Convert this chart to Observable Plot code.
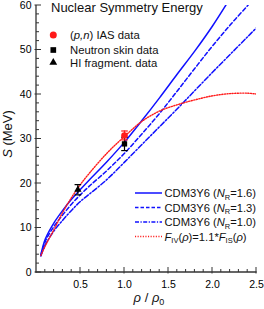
<!DOCTYPE html>
<html><head><meta charset="utf-8">
<script src="https://cdn.jsdelivr.net/npm/d3@7"></script>
<script src="https://cdn.jsdelivr.net/npm/@observablehq/plot@0.6"></script>
<style>body{margin:0;background:#fff}svg{display:block}</style>
</head><body><div id="chart"></div>
<script>
// density grid rho/rho0
const rho = [0.05,0.1,0.2,0.3,0.4,0.5,0.6,0.8,1.0,1.2,1.4,1.6,1.8,2.0,2.2,2.4,2.5];
// CDM3Y6 symmetry energy curves S (MeV)
const sNR16 = [4.0,7.5,11.2,14.0,16.5,18.7,20.8,24.9,29.3,34.2,39.3,44.6,49.8,55.4,61.6,68.0,71.2];
const sNR13 = [3.9,7.0,10.4,13.0,15.4,17.5,19.4,22.9,26.8,31.2,35.8,40.8,45.9,50.9,55.6,60.0,62.2];
const sNR10 = [3.7,6.2,9.4,11.8,14.0,16.0,17.6,20.9,24.8,28.8,32.8,36.8,40.9,45.0,49.0,53.0,55.0];
const sFIV  = [3.8,6.0,9.7,13.6,16.9,19.8,22.3,26.8,30.6,34.0,36.3,37.7,38.8,39.7,40.2,40.3,40.1];
// experimental points
const expNames = ["IAS","skin","HI"];
const expRho = [1.0, 1.0, 0.47];
const expS   = [30.8, 28.9, 18.6];
const expErr = [1.0, 1.5, 1.15];
// ticks
const xTickLabels = [0.5,1.0,1.5,2.0,2.5];
const yTickLabels = [0,10,20,30,40,50,60];

const curveSeries = ["NR16","NR13","NR10","FIV"];
const curveVals = [sNR16, sNR13, sNR10, sFIV];
const curves = curveSeries.flatMap((s, i) => rho.map((r, j) => ({series: s, rho: r, S: curveVals[i][j]})));
const pts = expNames.map((n, i) => ({name: n, rho: expRho[i], S: expS[i], lo: expS[i]-expErr[i], hi: expS[i]+expErr[i]}));

const blue = "#1010ff", red = "#ff1a1a", axisColor = "#333";
const styleOf = {
  NR16: {stroke: blue, dash: null, w: 1.5},
  NR13: {stroke: blue, dash: "4,2.5", w: 1.5},
  NR10: {stroke: blue, dash: "5,2,1.5,2", w: 1.5},
  FIV:  {stroke: red, dash: "1.1,1.5", w: 1.4}
};
const capSymbol = {draw(ctx, size) { const r = Math.sqrt(size / Math.PI); ctx.moveTo(-r, 0); ctx.lineTo(r, 0); }};

const lineMarks = curveSeries.map(s => Plot.line(curves.filter(d => d.series === s), {
  x: "rho", y: "S", stroke: styleOf[s].stroke, strokeWidth: styleOf[s].w,
  strokeDasharray: styleOf[s].dash, curve: "catmull-rom", clip: true
}));

const colorOf = {IAS: red, skin: "black", HI: "black"};
const symOf = {IAS: "circle", skin: "square", HI: "triangle"};
const rOf = {IAS: 3.3, skin: 3.0, HI: 2.7};

const chart = Plot.plot({
  width: 264, height: 309,
  marginLeft: 36, marginRight: 8, marginTop: 5, marginBottom: 37,
  x: {domain: [0, 2.5]},
  y: {domain: [0, 60]},
  style: {fontFamily: "'Liberation Sans', Arial, sans-serif", background: "white", color: "black"},
  marks: [
    Plot.axisX({ticks: xTickLabels, tickSize: 0, tickPadding: 8, tickFormat: d => d.toFixed(1), fontSize: 10.5, label: null}),
    Plot.axisY({ticks: yTickLabels, tickSize: 0, tickPadding: 5, fontSize: 10.5, label: null}),
    ...lineMarks,
    Plot.ruleX(pts, {x: "rho", y1: "lo", y2: "hi", stroke: d => colorOf[d.name], strokeWidth: 1.2}),
    Plot.dot(pts, {x: "rho", y: "lo", symbol: capSymbol, r: 3.3, stroke: d => colorOf[d.name], strokeWidth: 1.2}),
    Plot.dot(pts, {x: "rho", y: "hi", symbol: capSymbol, r: 3.3, stroke: d => colorOf[d.name], strokeWidth: 1.2}),
    ...expNames.map(n => Plot.dot(pts.filter(d => d.name === n), {x: "rho", y: "S", symbol: symOf[n], r: rOf[n], fill: colorOf[n], stroke: "none"}))
  ]
});

const svg = d3.select(chart);
const xs = chart.scale("x"), ys = chart.scale("y");
const X = v => xs.apply(v), Y = v => ys.apply(v);

// axis lines and inward ticks
const ax = svg.append("g").attr("stroke", axisColor).attr("fill", "none");
ax.append("line").attr("x1", X(0)).attr("x2", X(0)).attr("y1", Y(0) + 0.6).attr("y2", Y(60)).attr("stroke-width", 1.3);
ax.append("line").attr("x1", X(0) - 0.6).attr("x2", X(2.5) + 0.6).attr("y1", Y(0)).attr("y2", Y(0)).attr("stroke-width", 1.3);
d3.range(0, 61, 2).forEach(v => {
  const major = v % 10 === 0;
  ax.append("line").attr("x1", X(0) - (major ? 1.5 : 0)).attr("x2", X(0) + (major ? 5 : 3))
    .attr("y1", Y(v)).attr("y2", Y(v)).attr("stroke-width", 1);
});
d3.range(1, 26).forEach(k => {
  const v = k / 10, major = k % 5 === 0;
  ax.append("line").attr("x1", X(v)).attr("x2", X(v))
    .attr("y1", Y(0) + (major ? 1.5 : 0)).attr("y2", Y(0) - (major ? 5 : 3)).attr("stroke-width", 1);
});

const font = "'Liberation Sans', Arial, sans-serif";
const txt = (x, y, size) => svg.append("text").attr("x", x).attr("y", y).attr("text-anchor", "start")
  .attr("font-size", size).attr("font-family", font).attr("fill", "#111");
// title
txt(51, 11.5, 13).text("Nuclear Symmetry Energy");

// y label
const yl = svg.append("text").attr("transform", "translate(11.5,134) rotate(-90)").attr("text-anchor", "middle")
  .attr("font-size", 13).attr("font-family", font).attr("fill", "#111");
yl.append("tspan").attr("font-style", "italic").text("S");
yl.append("tspan").text(" (MeV)");

// x label
const xl = svg.append("text").attr("x", 149).attr("y", 302).attr("text-anchor", "middle")
  .attr("font-size", 13).attr("font-family", font).attr("fill", "#111");
xl.append("tspan").attr("font-style", "italic").text("ρ");
xl.append("tspan").text(" / ");
xl.append("tspan").attr("font-style", "italic").text("ρ");
xl.append("tspan").attr("font-size", 9).attr("dy", 3).text("0");

// symbol legend
const symLegend = [
  {name: "IAS", y: 35, tb: 39},
  {name: "skin", y: 50, tb: 54},
  {name: "HI", y: 62.5, tb: 66.5}
];
const d3sym = {circle: d3.symbolCircle, square: d3.symbolSquare, triangle: d3.symbolTriangle};
symLegend.forEach(e => {
  const r = rOf[e.name] + 0.2;
  svg.append("path").attr("transform", `translate(53.3,${e.y})`)
    .attr("d", d3.symbol(d3sym[symOf[e.name]], Math.PI * r * r)()).attr("fill", colorOf[e.name]);
  const t = txt(70, e.tb, 11.3);
  if (e.name === "IAS") {
    t.append("tspan").text("(");
    t.append("tspan").attr("font-style", "italic").text("p,n");
    t.append("tspan").text(") IAS data");
  } else if (e.name === "skin") t.text("Neutron skin data");
  else t.text("HI fragment. data");
});

// line legend
const lineLegend = [
  {s: "NR16", y: 193, tb: 197, nr: "1.6"},
  {s: "NR13", y: 207.5, tb: 211.5, nr: "1.3"},
  {s: "NR10", y: 222, tb: 226, nr: "1.0"},
  {s: "FIV", y: 236.5, tb: 240.5}
];
lineLegend.forEach(e => {
  const st = styleOf[e.s];
  svg.append("line").attr("x1", 135).attr("x2", 162).attr("y1", e.y).attr("y2", e.y)
    .attr("stroke", st.stroke).attr("stroke-width", st.w)
    .attr("stroke-dasharray", e.s === "NR13" ? "3.5,2" : e.s === "NR10" ? "4,1.5,1.2,1.5" : st.dash);
  const t = txt(164.5, e.tb, 11.2);
  if (e.nr) {
    t.append("tspan").text("CDM3Y6 (");
    t.append("tspan").attr("font-style", "italic").text("N");
    t.append("tspan").attr("font-size", 7.5).attr("dy", 2.5).text("R");
    t.append("tspan").attr("dy", -2.5).text("=" + e.nr + ")");
  } else {
    t.append("tspan").attr("font-style", "italic").text("F");
    t.append("tspan").attr("font-size", 7.5).attr("dy", 2.5).text("IV");
    t.append("tspan").attr("dy", -2.5).text("(");
    t.append("tspan").attr("font-style", "italic").text("ρ");
    t.append("tspan").text(")=1.1*");
    t.append("tspan").attr("font-style", "italic").text("F");
    t.append("tspan").attr("font-size", 7.5).attr("dy", 2.5).text("IS");
    t.append("tspan").attr("dy", -2.5).text("(");
    t.append("tspan").attr("font-style", "italic").text("ρ");
    t.append("tspan").text(")");
  }
});

document.getElementById("chart").appendChild(chart);
</script>
</body></html>
